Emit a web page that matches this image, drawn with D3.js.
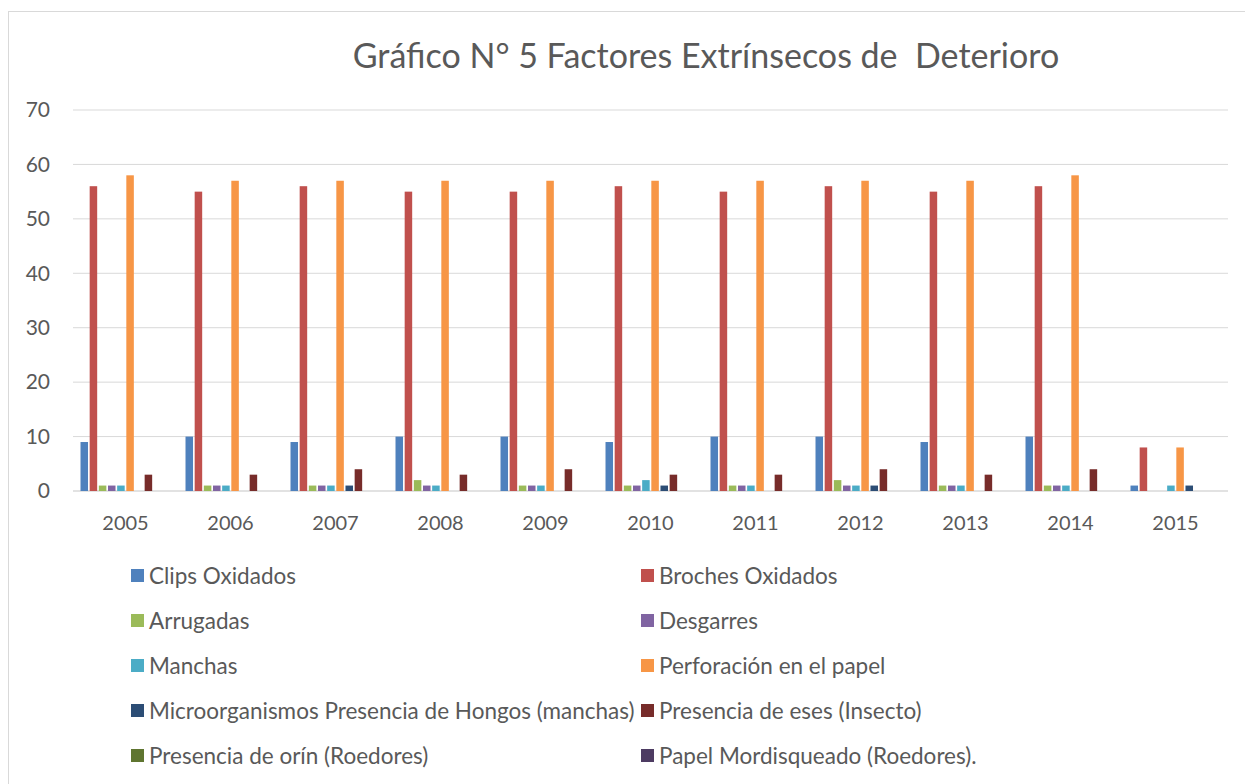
<html>
<head>
<style>
  body { margin: 0; background: #fff; }
  text { font-family: Lato, "Open Sans", sans-serif; fill: #595959; }
</style>
</head>
<body>
<svg id="chart" width="1245" height="784"></svg>
<script src="https://cdn.jsdelivr.net/npm/d3@7"></script>
<script>
const years = ["2005","2006","2007","2008","2009","2010","2011","2012","2013","2014","2015"]
const seriesNames = ["Clips Oxidados", "Broches Oxidados", "Arrugadas", "Desgarres", "Manchas",
  "Perforación en el papel", "Microorganismos Presencia de Hongos (manchas)",
  "Presencia de eses (Insecto)", "Presencia de orín (Roedores)", "Papel Mordisqueado (Roedores)."]
const colors = ["#4F81BD","#C0504D","#9BBB59","#8064A2","#4BACC6","#F79646","#2C4D75","#772C2A","#5F7530","#4D3B62"]

const clips      = [9, 10, 9, 10, 10, 9, 10, 10, 9, 10, 1]
const broches    = [56, 55, 56, 55, 55, 56, 55, 56, 55, 56, 8]
const arrugadas  = [1, 1, 1, 2, 1, 1, 1, 2, 1, 1, 0]
const desgarres  = [1, 1, 1, 1, 1, 1, 1, 1, 1, 1, 0]
const manchas    = [1, 1, 1, 1, 1, 2, 1, 1, 1, 1, 1]
const perforacion= [58, 57, 57, 57, 57, 57, 57, 57, 57, 58, 8]
const hongos     = [0, 0, 1, 0, 0, 1, 0, 1, 0, 0, 1]
const eses       = [3, 3, 4, 3, 4, 3, 3, 4, 3, 4, 0]
const orin       = [0, 0, 0, 0, 0, 0, 0, 0, 0, 0, 0]
const mordisqueo = [0, 0, 0, 0, 0, 0, 0, 0, 0, 0, 0]
const yTicks = [0, 10, 20, 30, 40, 50, 60, 70]

const allSeries = [clips, broches, arrugadas, desgarres, manchas, perforacion, hongos, eses, orin, mordisqueo]

let svg = d3.select("#chart")

// chart border
svg.append("rect")
  .attr("x", 8.5).attr("y", 11.5)
  .attr("width", 1245).attr("height", 800)
  .attr("fill", "none").attr("stroke", "#d9d9d9")

svg.append("text")
  .attr("x", 706).attr("y", 68)
  .attr("text-anchor", "middle")
  .attr("font-size", 34)
  .style("white-space", "pre")
  .text("Gráfico N° 5 Factores Extrínsecos de  Deterioro")

let plotLeft = 73, plotRight = 1228, plotTop = 110, plotBottom = 491

let y = d3.scaleLinear().domain([0, 70]).range([plotBottom, plotTop])
let x0 = d3.scaleBand().domain(years).range([plotLeft, plotRight])
  .paddingInner(0.143).paddingOuter(0.0715)
let x1 = d3.scaleBand().domain(d3.range(allSeries.length)).range([0, x0.bandwidth()])
  .paddingInner(0.18)

// gridlines
svg.append("g").selectAll("line")
  .data(yTicks)
  .enter().append("line")
  .attr("x1", plotLeft).attr("x2", plotRight)
  .attr("y1", d => y(d)).attr("y2", d => y(d))
  .attr("stroke", "#d9d9d9")
  .attr("stroke-width", d => d === 0 ? 1.5 : 1)

svg.append("g").selectAll("text")
  .data(yTicks)
  .enter().append("text")
  .attr("x", 50).attr("y", d => y(d))
  .attr("dy", "0.35em")
  .attr("text-anchor", "end")
  .attr("font-size", 21)
  .text(d => d)

let groups = svg.append("g").selectAll("g")
  .data(years)
  .enter().append("g")
  .attr("transform", d => `translate(${x0(d)},0)`)

groups.selectAll("rect")
  .data((d, i) => allSeries.map((s, k) => ({ k: k, v: s[i] })))
  .enter().append("rect")
  .attr("x", d => x1(d.k))
  .attr("width", x1.bandwidth())
  .attr("y", d => y(d.v))
  .attr("height", d => y(0) - y(d.v))
  .attr("fill", d => colors[d.k])

svg.append("g").selectAll("text")
  .data(years)
  .enter().append("text")
  .attr("x", d => x0(d) + x0.bandwidth() / 2)
  .attr("y", 530)
  .attr("text-anchor", "middle")
  .attr("font-size", 20)
  .text(d => d)

// legend
let legend = svg.append("g").selectAll("g")
  .data(seriesNames)
  .enter().append("g")
  .attr("transform", (d, i) => `translate(${i % 2 === 0 ? 131 : 641},${576 + Math.floor(i / 2) * 45})`)

legend.append("rect")
  .attr("x", 0).attr("y", -7)
  .attr("width", 13).attr("height", 13)
  .attr("fill", (d, i) => colors[i])

legend.append("text")
  .attr("x", 18).attr("y", 0)
  .attr("dy", "0.35em")
  .attr("font-size", 22.5)
  .text(d => d)
</script>
</body>
</html>
